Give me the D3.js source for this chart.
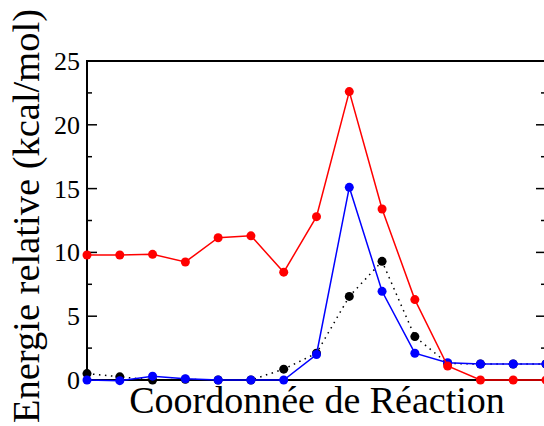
<!DOCTYPE html>
<html>
<head>
<meta charset="utf-8">
<script src="https://cdn.jsdelivr.net/npm/d3@7"></script>
</head>
<body style="margin:0">
<script>
// reaction coordinate steps
let steps = d3.range(15)
let redVals   = [9.8, 9.8, 9.85, 9.25, 11.15, 11.3, 8.45, 12.8, 22.6, 13.4, 6.3, 1.1, 0, 0, 0]
let blueVals  = [0, -0.05, 0.3, 0.1, 0, 0, 0, 2.0, 15.1, 6.95, 2.1, 1.35, 1.25, 1.25, 1.25]
let blackVals = [0.5, 0.25, 0, 0.05, 0, 0, 0.85, 2.1, 6.55, 9.3, 3.4, 1.3, 1.25, 1.25, 1.25]
let yTicks = [0, 5, 10, 15, 20, 25]

let W = 544, H = 426
let mLeft = 87, mRight = 546, mTop = 61, mBottom = 380

let svg = d3.select('body').append('svg')
  .attr('width', W).attr('height', H)

let x = d3.scaleLinear().domain([0, 14]).range([mLeft, mRight])
let y = d3.scaleLinear().domain([0, 25]).range([mBottom, mTop])

// frame
svg.append('rect')
  .attr('x', mLeft).attr('y', mTop)
  .attr('width', mRight - mLeft).attr('height', mBottom - mTop)
  .attr('fill', 'none').attr('stroke', '#000').attr('stroke-width', 2)

// inward ticks on both sides (major every 5, minor every 2.5)
let minor = d3.range(0, 25.01, 2.5)
let tickData = []
minor.forEach(v => {
  let len = v % 5 == 0 ? 10 : 5
  tickData.push({v: v, x1: mLeft, x2: mLeft + len})
  tickData.push({v: v, x1: mRight, x2: mRight - len})
})
svg.selectAll('.tk').data(tickData).enter()
  .append('line')
  .attr('class', 'tk')
  .attr('x1', d => d.x1).attr('x2', d => d.x2)
  .attr('y1', d => y(d.v)).attr('y2', d => y(d.v))
  .attr('stroke', '#000').attr('stroke-width', 1.5)

// tick labels
svg.selectAll('.ylab').data(yTicks).enter()
  .append('text')
  .attr('class', 'ylab')
  .attr('x', mLeft - 7)
  .attr('y', d => y(d) + 9)
  .attr('text-anchor', 'end')
  .attr('font-size', 26)
  .style('font-family', 'Liberation Serif')
  .text(d => d)

let line = d3.line().x((d, i) => x(steps[i])).y(d => y(d))

let series = [
  {vals: blackVals, color: '#000', dash: '1.5,4.5'},
  {vals: blueVals, color: '#0000ff', dash: null},
  {vals: redVals, color: '#ff0000', dash: null}
]

series.forEach(s => {
  svg.append('path')
    .datum(s.vals)
    .attr('d', line)
    .attr('fill', 'none')
    .attr('stroke', s.color)
    .attr('stroke-width', 1.5)
    .attr('stroke-dasharray', s.dash)
  svg.append('g').selectAll('circle').data(s.vals).enter()
    .append('circle')
    .attr('cx', (d, i) => x(steps[i]))
    .attr('cy', d => y(d))
    .attr('r', 4.5)
    .attr('fill', s.color)
})

// axis titles
svg.append('text')
  .attr('x', 317).attr('y', 412.5)
  .attr('text-anchor', 'middle')
  .attr('font-size', 38)
  .style('font-family', 'Liberation Serif')
  .text('Coordonnée de Réaction')

svg.append('text')
  .attr('transform', 'translate(39,216) rotate(-90)')
  .attr('text-anchor', 'middle')
  .attr('font-size', 38.5)
  .style('font-family', 'Liberation Serif')
  .text('Energie relative (kcal/mol)')
</script>
</body>
</html>
